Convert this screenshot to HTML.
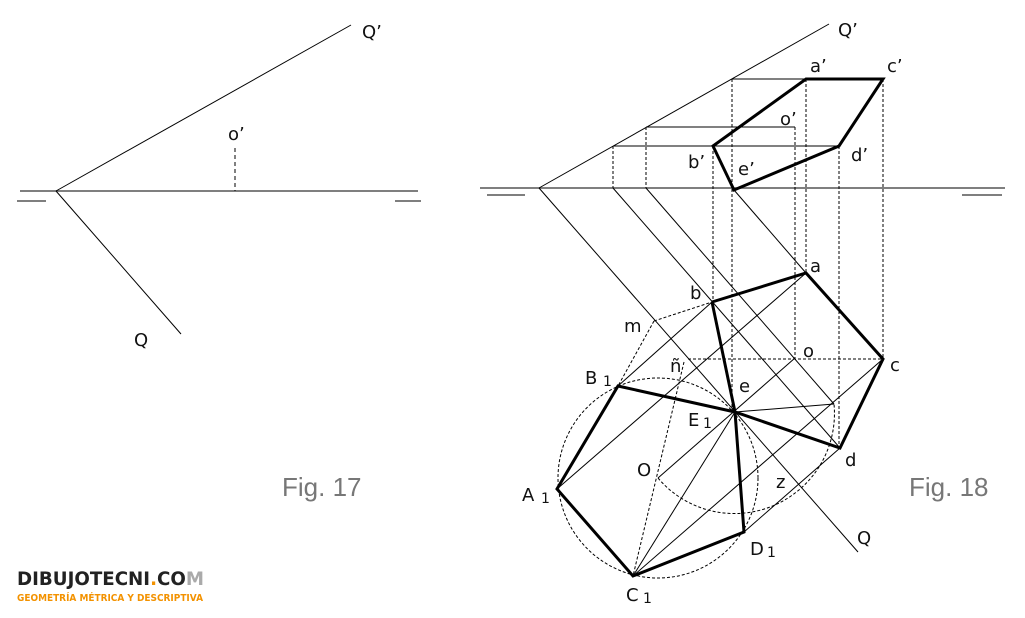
<!DOCTYPE html>
<html><head><meta charset="utf-8"><style>
html,body{margin:0;padding:0;background:#fff;}
svg{display:block;}
text{font-family:"DejaVu Sans","Liberation Sans",sans-serif;fill:#111;}
</style></head><body>
<svg width="1025" height="618" viewBox="0 0 1025 618" xmlns="http://www.w3.org/2000/svg">
<rect width="1025" height="618" fill="#fff"/>
<g stroke="#000" stroke-width="1" fill="none">
<!-- Fig 17 -->
<line x1="20" y1="191" x2="418" y2="191" stroke="#555" stroke-width="1.4"/>
<line x1="17" y1="201" x2="46" y2="201" stroke="#555" stroke-width="1.4"/>
<line x1="395" y1="201" x2="421" y2="201" stroke="#555" stroke-width="1.4"/>
<line x1="56" y1="191" x2="351" y2="25"/>
<line x1="56" y1="191" x2="181" y2="334"/>
<line x1="235" y1="148" x2="235" y2="191" stroke-dasharray="4,3"/>
<!-- Fig 18 ground -->
<line x1="480" y1="188" x2="1005" y2="188" stroke="#555" stroke-width="1.4"/>
<line x1="487" y1="195" x2="525" y2="195" stroke="#555" stroke-width="1.4"/>
<line x1="962" y1="195" x2="1002" y2="195" stroke="#555" stroke-width="1.4"/>
<line x1="539" y1="188" x2="829" y2="24"/>
<line x1="539" y1="188" x2="858" y2="552"/>
<line x1="613" y1="188" x2="840" y2="448"/>
<line x1="646" y1="188" x2="834" y2="404"/>
<line x1="734" y1="190" x2="806" y2="273"/>
<!-- horizontals in elevation -->
<line x1="732" y1="79" x2="806" y2="79"/>
<line x1="646" y1="127" x2="795" y2="127"/>
<line x1="613" y1="146" x2="839" y2="146"/>
<!-- dashed verticals -->
<g stroke-dasharray="3,2">
<line x1="613" y1="146" x2="613" y2="188"/>
<line x1="646" y1="127" x2="646" y2="188"/>
<line x1="732" y1="79" x2="732" y2="412"/>
<line x1="713" y1="146" x2="713" y2="302"/>
<line x1="795" y1="127" x2="795" y2="358"/>
<line x1="806" y1="79" x2="806" y2="273"/>
<line x1="839" y1="146" x2="839" y2="448"/>
<line x1="883" y1="79" x2="883" y2="359"/>
<line x1="688" y1="359" x2="883" y2="359"/>
<line x1="654" y1="321" x2="712" y2="302"/>
<line x1="654" y1="321" x2="618" y2="386"/>
<line x1="684" y1="362" x2="633" y2="576"/>
<circle cx="658" cy="478" r="100"/>
<path d="M658,478 A100,100 0 0 0 834,404"/>
</g>
<!-- thin plan lines -->
<line x1="618" y1="386" x2="712" y2="302"/>
<line x1="557" y1="489" x2="806" y2="273"/>
<line x1="658" y1="478" x2="795" y2="358"/>
<line x1="735" y1="412" x2="834" y2="404"/>
<line x1="633" y1="576" x2="735" y2="412"/>
<line x1="633" y1="576" x2="883" y2="359"/>
<line x1="744" y1="532" x2="840" y2="448"/>
<!-- thick -->
<g stroke-width="3" stroke-linejoin="miter">
<polygon points="806,79 883,79 839,146 734,190 713,146"/>
<polyline points="712,302 806,273 883,359 840,448 735,412 618,386 557,489 633,576 744,532 735,412 712,302"/>
</g>
</g>
<g font-size="18">
<text x="362" y="38">Q’</text>
<text x="228" y="140">o’</text>
<text x="134" y="346">Q</text>
<text x="838" y="36">Q’</text>
<text x="810" y="72">a’</text>
<text x="887" y="72">c’</text>
<text x="780" y="125">o’</text>
<text x="688" y="168">b’</text>
<text x="738" y="175">e’</text>
<text x="851" y="161">d’</text>
<text x="810" y="272">a</text>
<text x="690" y="299">b</text>
<text x="624" y="332">m</text>
<text x="803" y="357">o</text>
<text x="670" y="372">ñ</text>
<text x="890" y="371">c</text>
<text x="585" y="384">B</text><text x="603" y="386" font-size="14">1</text>
<text x="739" y="392">e</text>
<text x="688" y="426">E</text><text x="703" y="428" font-size="14">1</text>
<text x="637" y="476">O</text>
<text x="845" y="466">d</text>
<text x="776" y="488">z</text>
<text x="522" y="501">A</text><text x="541" y="503" font-size="14">1</text>
<text x="750" y="555">D</text><text x="767" y="557" font-size="14">1</text>
<text x="626" y="601">C</text><text x="643" y="603" font-size="14">1</text>
<text x="857" y="544">Q</text>
</g>
<text x="282" y="496" font-size="26" style="font-family:'Liberation Sans',sans-serif;fill:#777">Fig. 17</text>
<text x="909" y="496" font-size="26" style="font-family:'Liberation Sans',sans-serif;fill:#777">Fig. 18</text>
<text x="17" y="585" font-size="19" font-weight="bold" style="font-family:'DejaVu Sans',sans-serif;fill:#222" textLength="187" lengthAdjust="spacingAndGlyphs">DIBUJOTECNI<tspan fill="#f39200">.</tspan>CO<tspan fill="#aaa">M</tspan></text>
<text x="17" y="601" font-size="9.5" font-weight="bold" style="font-family:'DejaVu Sans',sans-serif;fill:#f39200" textLength="186" lengthAdjust="spacingAndGlyphs">GEOMETRÍA MÉTRICA Y DESCRIPTIVA</text>
</svg>
</body></html>
